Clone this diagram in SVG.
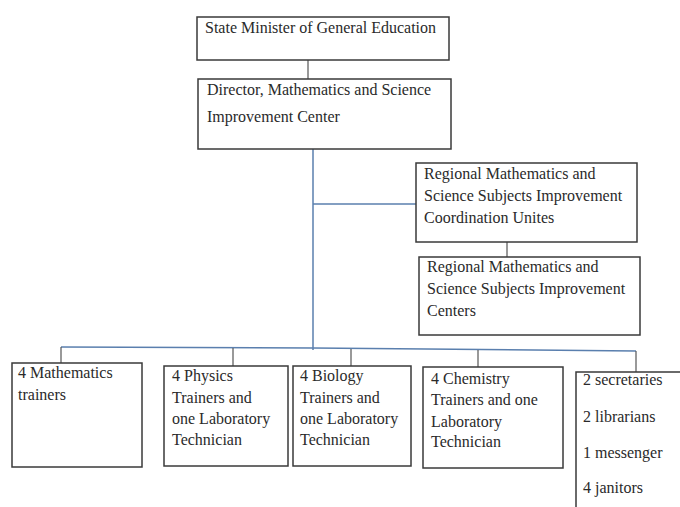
<svg xmlns="http://www.w3.org/2000/svg" width="680" height="507" viewBox="0 0 680 507">
<style>
.box{fill:#fff;stroke:#3a3a3a;stroke-width:1.5}
.t{font-family:"Liberation Serif","Times New Roman",serif;font-size:16px;fill:#2a2a2a}
.blue{stroke:#5a7fae;stroke-width:1.5;fill:none}
.gray{stroke:#555;stroke-width:1.2;fill:none}
</style>
<rect width="680" height="507" fill="#fff"/>
<g id="connectors">
<line class="gray" x1="308" y1="60" x2="308" y2="79"/>
<line class="blue" x1="313" y1="149" x2="313" y2="350"/>
<line class="blue" x1="313" y1="204" x2="416" y2="204"/>
<line class="gray" x1="507" y1="242" x2="507" y2="257"/>
<polyline class="blue" points="61,347 313,348 636,351"/>
<line class="gray" x1="61" y1="347" x2="61" y2="363"/>
<line class="gray" x1="233" y1="348" x2="233" y2="366"/>
<line class="gray" x1="351" y1="349" x2="351" y2="366"/>
<line class="gray" x1="478" y1="350" x2="478" y2="367"/>
<line class="gray" x1="636" y1="351" x2="636" y2="372"/>
</g>
<g id="minister">
<rect class="box" x="197" y="17" width="252" height="43"/>
<text class="t" x="205" y="33">State Minister of General Education</text>
</g>
<g id="director">
<rect class="box" x="198" y="79" width="253" height="70"/>
<text class="t" x="207" y="95">Director, Mathematics and Science</text>
<text class="t" x="207" y="122">Improvement Center</text>
</g>
<g id="regional-units">
<rect class="box" x="416" y="163" width="221" height="79"/>
<text class="t" x="424" y="179">Regional Mathematics and</text>
<text class="t" x="424" y="201">Science Subjects Improvement</text>
<text class="t" x="424" y="223">Coordination Unites</text>
</g>
<g id="regional-centers">
<rect class="box" x="419" y="257" width="221" height="78"/>
<text class="t" x="427" y="272">Regional Mathematics and</text>
<text class="t" x="427" y="294">Science Subjects Improvement</text>
<text class="t" x="427" y="316">Centers</text>
</g>
<g id="math">
<rect class="box" x="12" y="363" width="130" height="104"/>
<text class="t" x="18" y="378">4 Mathematics</text>
<text class="t" x="18" y="400">trainers</text>
</g>
<g id="physics">
<rect class="box" x="164" y="366" width="124" height="100"/>
<text class="t" x="172" y="381">4 Physics</text>
<text class="t" x="172" y="403">Trainers and</text>
<text class="t" x="172" y="424">one Laboratory</text>
<text class="t" x="172" y="445">Technician</text>
</g>
<g id="biology">
<rect class="box" x="293" y="366" width="118" height="100"/>
<text class="t" x="300" y="381">4 Biology</text>
<text class="t" x="300" y="403">Trainers and</text>
<text class="t" x="300" y="424">one Laboratory</text>
<text class="t" x="300" y="445">Technician</text>
</g>
<g id="chemistry">
<rect class="box" x="423" y="367" width="140" height="101"/>
<text class="t" x="431" y="384">4 Chemistry</text>
<text class="t" x="431" y="405">Trainers and one</text>
<text class="t" x="431" y="427">Laboratory</text>
<text class="t" x="431" y="447">Technician</text>
</g>
<g id="staff">
<polyline class="box" points="576,510 576,372 682,372"/>
<text class="t" x="583" y="385">2 secretaries</text>
<text class="t" x="583" y="422">2 librarians</text>
<text class="t" x="583" y="458">1 messenger</text>
<text class="t" x="583" y="493">4 janitors</text>
</g>
</svg>
